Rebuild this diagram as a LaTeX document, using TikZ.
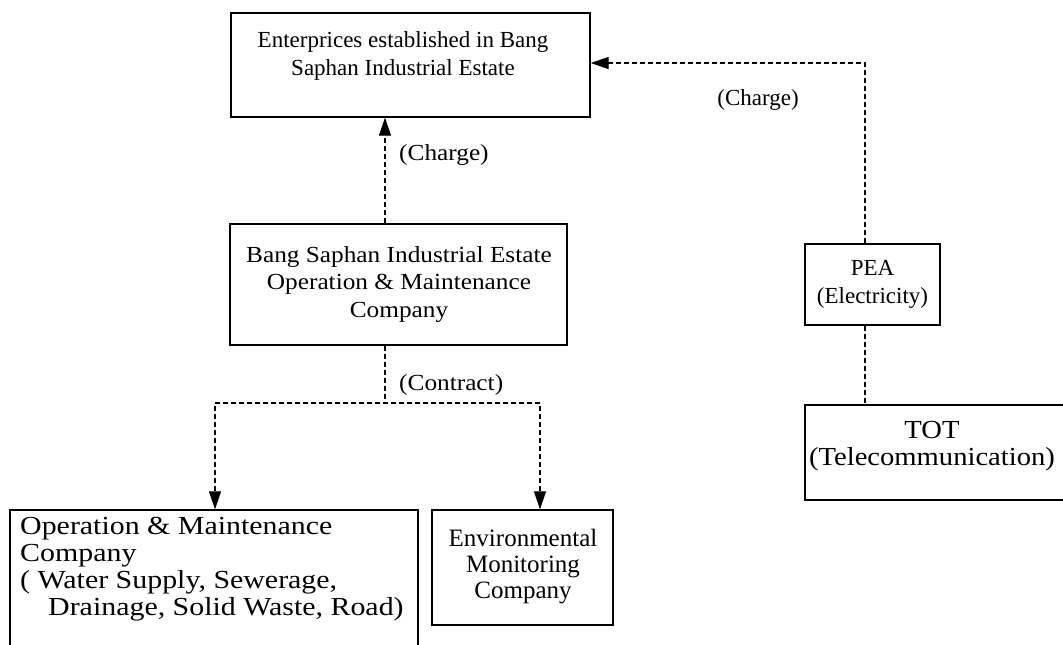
\documentclass[tikz,border=0pt]{standalone}
\usepackage{fontspec}
\setmainfont{Liberation Serif}
\newfontfamily\stretchA[FakeStretch=1.1]{Liberation Serif}
\newfontfamily\stretchC[FakeStretch=1.15]{Liberation Serif}
\usetikzlibrary{arrows.meta}
\begin{document}
\begin{tikzpicture}[x=1pt,y=-1pt,
  box/.style={draw, line width=1.4pt, inner sep=0pt},
  txt/.style={font=\fontsize{23}{27.5}\selectfont, align=center, inner sep=0pt},
  txtA/.style={font=\stretchA\fontsize{23}{27.5}\selectfont, align=center, inner sep=0pt},
  txtB/.style={font=\stretchA\fontsize{26}{27}\selectfont, align=center, inner sep=0pt},
  txtE/.style={font=\fontsize{25}{26}\selectfont, align=center, inner sep=0pt},
  ltxt/.style={font=\stretchC\fontsize{26}{27}\selectfont, align=left, inner sep=0pt},
  link/.style={line width=1.3pt, dash pattern=on 5pt off 3pt},
  arr/.style={link, -{Triangle[length=18pt,width=12pt]}}]
\useasboundingbox (0,0) rectangle (1063,645);
\fill[white] (0,0) rectangle (1063,645);
\clip (0,0) rectangle (1063,645);

% boxes
\node[box, minimum width=359pt, minimum height=104pt] (top) at (410.5,65) {};
\node[txt] (toptext) at (403,56) {Enterprices established in Bang\\Saphan Industrial Estate};

\node[box, minimum width=337pt, minimum height=121pt] (mid) at (398.5,284.5) {};
\node[txtA] (midtext) at (399,284) {Bang Saphan Industrial Estate\\Operation \& Maintenance\\Company};

\node[box, minimum width=135pt, minimum height=81pt] (pea) at (872.5,284.5) {};
\node[txt] (peatext) at (872.5,284.5) {PEA\\(Electricity)};

\node[box, minimum width=265pt, minimum height=95pt] (tot) at (937.5,452.5) {};
\node[txtB] (tottext) at (932,446) {TOT\\(Telecommunication)};

\node[box, minimum width=408pt, minimum height=150pt] (om) at (214,585) {};
\node[ltxt, anchor=north west] (omtext) at (20,517) {Operation \& Maintenance\\Company\\( Water Supply, Sewerage,\\\hspace*{28pt}Drainage, Solid Waste, Road)};

\node[box, minimum width=181pt, minimum height=115pt] (env) at (522.5,567.5) {};
\node[txtE] (envtext) at (523,567) {Environmental\\Monitoring\\Company};

% connector helper coordinates
\coordinate (cx) at (385,0);
\coordinate (px) at (865,0);
\coordinate (jn) at (385,403);
\coordinate (jl) at (215,403);
\coordinate (jr) at (540,403);
\coordinate (pc) at (865,63);

% connectors
\draw[arr] (mid.north -| cx) -- (top.south -| cx);
\draw[arr] (pea.north -| px) -- (pc) -- (top.east |- pc);
\draw[link] (mid.south -| cx) -- (jn);
\draw[arr] (jl) -- (jr) -- (env.north -| jr);
\draw[arr] (jr) -- (jl) -- (om.north -| jl);
\draw[link] (pea.south -| px) -- (tot.north -| px);

% labels
\node[txtA, anchor=west] (lcharge1) at (399,155) {(Charge)};
\node[txt] (lcharge2) at (758,100) {(Charge)};
\node[txtA, anchor=west] (lcontract) at (399,385) {(Contract)};
\end{tikzpicture}
\end{document}
